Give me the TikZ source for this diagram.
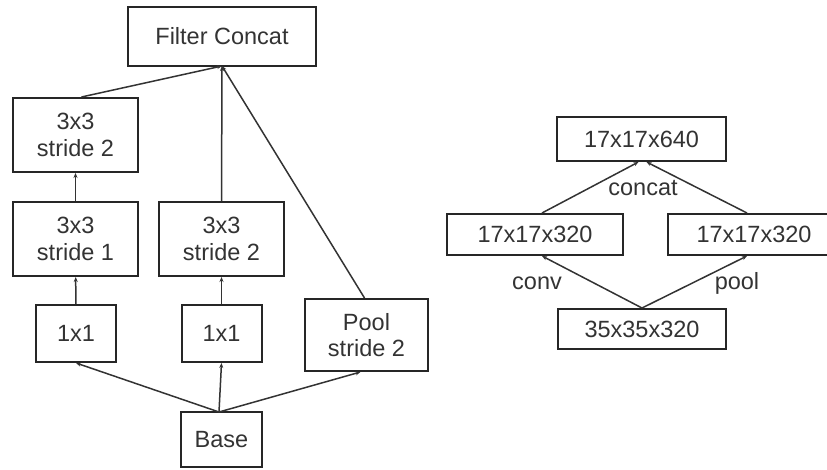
\documentclass[tikz,border=0pt]{standalone}
\usepackage{fontspec}
\setmainfont{Liberation Sans}
\usetikzlibrary{arrows.meta}
\begin{document}
\begin{tikzpicture}[x=1pt,y=-1pt,
  box/.style={draw=black!85,line width=2pt,inner sep=0pt,align=center,font=\fontsize{23.5}{26.5}\selectfont,text=black!80},
  conn/.style={draw=black!80,line width=1.5pt,-{Stealth[length=5pt,width=4pt]}},
  lbl/.style={font=\fontsize{23.5}{26.5}\selectfont,text=black!80,inner sep=0pt}]
\useasboundingbox (0,0) rectangle (827,470);
\clip (0,0) rectangle (827,470);
% left diagram
\node[box,minimum width=188pt,minimum height=59pt] (fc) at (222,36.5) {Filter Concat};
\node[box,minimum width=125pt,minimum height=74pt] (a2) at (75.5,135) {3x3\\stride 2};
\node[box,minimum width=125pt,minimum height=74pt] (a1) at (75.5,239) {3x3\\stride 1};
\node[box,minimum width=125pt,minimum height=74pt] (b2) at (221.5,239) {3x3\\stride 2};
\node[box,minimum width=80pt,minimum height=57pt] (a0) at (76,333.5) {1x1};
\node[box,minimum width=80pt,minimum height=57pt] (b0) at (221.5,333.5) {1x1};
\node[box,minimum width=123pt,minimum height=72pt] (p) at (366.5,335) {Pool\\stride 2};
\node[box,minimum width=81pt,minimum height=55pt] (base) at (221.5,439.5) {Base};
\coordinate (bt) at (219,412);
\coordinate (ft) at (222,66);
\draw[conn] (bt) -- (a0.south);
\draw[conn] (bt) -- (b0.south);
\draw[conn] (bt) -- ([xshift=-6pt]p.south);
\draw[conn] (a0) -- (a1);
\draw[conn] (b0) -- (b2);
\draw[conn] (a1) -- (a2);
\draw[conn] ([xshift=6pt]a2.north) -- (ft);
\draw[conn] (b2.north) -- (ft);
\draw[conn] ([xshift=-2pt]p.north) -- (ft);
% right diagram
\node[box,minimum width=169pt,minimum height=44pt] (t) at (641.5,139) {17x17x640};
\node[box,minimum width=176pt,minimum height=41pt] (l) at (535,234.5) {17x17x320};
\node[box,minimum width=172pt,minimum height=41pt] (r) at (754,234.5) {17x17x320};
\node[box,minimum width=168pt,minimum height=40pt] (bo) at (642,329) {35x35x320};
\draw[conn] (bo.north) -- ([xshift=7pt]l.south);
\draw[conn] (bo.north) -- ([xshift=-7pt]r.south);
\draw[conn] ([xshift=7pt]l.north) -- ([xshift=-3pt]t.south);
\draw[conn] ([xshift=-7pt]r.north) -- ([xshift=5pt]t.south);
\node[lbl] (cc) at (643,188) {concat};
\node[lbl] (cv) at (537,283) {conv};
\node[lbl] (pl) at (737,283) {pool};
\end{tikzpicture}
\end{document}
